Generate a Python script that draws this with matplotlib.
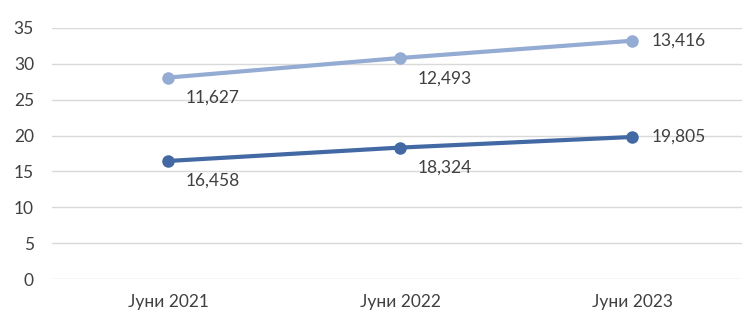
import numpy as np
import matplotlib.pyplot as plt

# Data (stacked line chart)
categories = ["Јуни 2021", "Јуни 2022", "Јуни 2023"]
series_a = np.array([16.458, 18.324, 19.805])
series_b = np.array([11.627, 12.493, 13.416])
stacked_b = series_a + series_b

dark = "#4369A4"
light = "#94ABD3"
text_col = "#404040"

plt.rcParams['font.family'] = ['Lato', 'DejaVu Sans']

fig = plt.figure(figsize=(7.42, 3.14), dpi=100)
ax = fig.add_axes([52 / 742, 35 / 314, 696 / 742, 251 / 314])

x = np.arange(len(categories))
ax.plot(x, series_a, color=dark, lw=3, marker='o', ms=8, zorder=3)
ax.plot(x, stacked_b, color=light, lw=3, marker='o', ms=8, zorder=3)

def fmt(v):
    return f"{v:.3f}".replace('.', ',')

for i in range(len(x)):
    for yv, val in ((series_a[i], series_a[i]), (stacked_b[i], series_b[i])):
        if i == len(x) - 1:
            ax.annotate(fmt(val), (x[i], yv), xytext=(14, 0), textcoords='offset points',
                        ha='left', va='center', fontsize=12.5, color=text_col)
        else:
            ax.annotate(fmt(val), (x[i], yv), xytext=(13, -14.5), textcoords='offset points',
                        ha='left', va='center', fontsize=12.5, color=text_col)

ax.set_xlim(-0.5, 2.5)
ax.set_ylim(0, 35)
ax.set_yticks(range(0, 36, 5))
ax.set_xticks(x)
ax.set_xticklabels(categories)
ax.grid(axis='y', color='#D9D9D9', lw=1)
ax.set_axisbelow(True)
for s in ax.spines.values():
    s.set_visible(False)
ax.tick_params(axis='both', length=0, labelsize=12.5, labelcolor=text_col)
ax.tick_params(axis='y', pad=13)
ax.tick_params(axis='x', pad=11)

fig.savefig("out.png", dpi=100)
